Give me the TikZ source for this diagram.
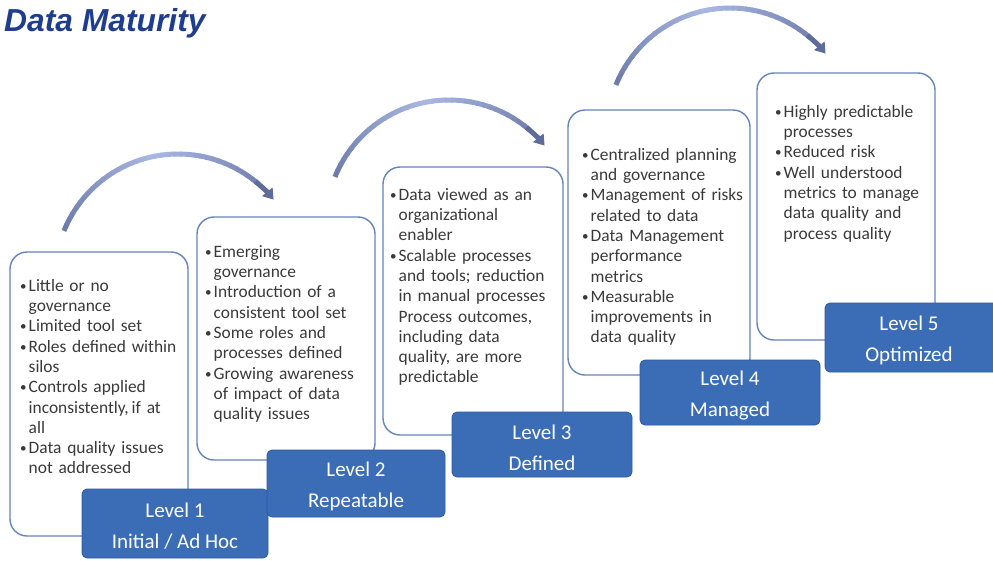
\documentclass[tikz,border=0pt]{standalone}
\usepackage{fontspec}
\usepackage{graphicx}
\setmainfont{Carlito}
\newfontfamily\titlefont{Liberation Sans}
\usetikzlibrary{arrows.meta}
\definecolor{titleblue}{HTML}{1F3D8F}
\definecolor{boxline}{HTML}{6683BB}
\definecolor{lblfill}{HTML}{3B6DB7}
\definecolor{lblline}{HTML}{2E5A9E}
\definecolor{txt}{HTML}{3A3A3A}
\definecolor{arcd}{HTML}{5E6C9C}
\definecolor{arcl}{HTML}{AAB8E4}
\newcommand{\bul}{\makebox[8.5pt][l]{\raisebox{0.1ex}{\scalebox{0.75}{\textbullet}}}}
\newcommand{\ind}{\hspace*{8.5pt}}
\newcommand{\fs}{\rule{0pt}{13pt}}
\tikzset{
  lvbox/.style={draw=boxline, line width=1.4pt, rounded corners=17pt, fill=white, inner sep=0pt},
  lvtext/.style={anchor=north west, inner sep=0pt, text=txt, font=\fontsize{17.4}{20.3}\selectfont, align=left, text width=185pt},
  lvlabel/.style={draw=lblline, fill=lblfill, rounded corners=5pt, text=white, font=\fontsize{21}{31}\selectfont, align=center, inner sep=0pt, line width=0.8pt},
  lvlabeltext/.style={text=white, font=\fontsize{21}{31}\selectfont, align=center, inner sep=0pt},
  arcline/.style={line width=5pt}
}
\begin{document}
\begin{tikzpicture}[x=1pt,y=1pt]
\useasboundingbox (0,0) rectangle (993,-560);
% title
\node[anchor=base west, inner sep=0pt, text=titleblue, font=\titlefont\bfseries\itshape\fontsize{31.8}{36}\selectfont] (title) at (4,-31) {Data Maturity};
% arcs
\foreach \cx/\cy in {178/277, 449/223, 730/131} {
  \foreach \a in {158,155,...,53} {
    \pgfmathtruncatemacro\p{max(15,100-1.4*abs(\a-102))}
    \draw[arcline, color=arcl!\p!arcd] ({\cx+123*cos(\a)},{-\cy+123*sin(\a)}) arc[start angle=\a, end angle=\a-3.6, radius=123pt];
  }
  \draw[arcline, arcd, -{Triangle[length=10pt,width=13pt]}] ({\cx+123*cos(51)},{-\cy+123*sin(51)}) arc[start angle=51, end angle=39, radius=123pt];
}
% boxes
\node[lvbox, minimum width=178pt, minimum height=284pt] (b1) at (99,-394) {};
\node[lvbox, minimum width=178pt, minimum height=243pt] (b2) at (286,-338.5) {};
\node[lvbox, minimum width=180pt, minimum height=268pt] (b3) at (473,-301) {};
\node[lvbox, minimum width=182pt, minimum height=265pt] (b4) at (659,-242.5) {};
\node[lvbox, minimum width=178pt, minimum height=267pt] (b5) at (846,-206.5) {};
% texts
\node[lvtext] (t1) at (20,-278) {\fs\bul Little or no\\\ind governance\\\bul Limited tool set\\\bul Roles defined within\\\ind silos\\\bul Controls applied\\\ind inconsistently,\,if at\\\ind all\\\bul Data quality issues\\\ind not addressed};
\node[lvtext] (t2) at (205,-244) {\fs\bul Emerging\\\ind governance\\\bul Introduction of a\\\ind consistent tool set\\\bul Some roles and\\\ind processes defined\\\bul Growing awareness\\\ind of impact of data\\\ind quality issues};
\node[lvtext] (t3) at (390,-187) {\fs\bul Data viewed as an\\\ind organizational\\\ind enabler\\\bul Scalable processes\\\ind and tools; reduction\\\ind in manual processes\\\ind Process outcomes,\\\ind including data\\\ind quality, are more\\\ind predictable};
\node[lvtext] (t4) at (582,-147) {\fs\bul Centralized planning\\\ind and governance\\\bul Management of risks\\\ind related to data\\\bul Data Management\\\ind performance\\\ind metrics\\\bul Measurable\\\ind improvements in\\\ind data quality};
\node[lvtext] (t5) at (775,-104) {\fs\bul Highly predictable\\\ind processes\\\bul Reduced risk\\\bul Well understood\\\ind metrics to manage\\\ind data quality and\\\ind process quality};
% labels
\node[lvlabel, minimum width=186pt, minimum height=69pt] (l1) at (175,-523.5) {};
\node[lvlabel, minimum width=178pt, minimum height=67pt] (l2) at (356,-483.5) {};
\node[lvlabel, minimum width=180pt, minimum height=65pt] (l3) at (542,-444.5) {};
\node[lvlabel, minimum width=180pt, minimum height=65pt] (l4) at (730,-392.5) {};
\node[lvlabel, minimum width=176pt, minimum height=69pt] (l5) at (913,-337.5) {};
\node[lvlabeltext] (l1t) at ([yshift=-3pt]l1.center) {Level 1\\Initial / Ad Hoc};
\node[lvlabeltext] (l2t) at ([yshift=-3pt]l2.center) {Level 2\\Repeatable};
\node[lvlabeltext] (l3t) at ([yshift=-3pt]l3.center) {Level 3\\Defined};
\node[lvlabeltext] (l4t) at ([yshift=-3pt]l4.center) {Level 4\\Managed};
\node[lvlabeltext] (l5t) at ([xshift=-4pt,yshift=-3pt]l5.center) {Level 5\\Optimized};
\end{tikzpicture}
\end{document}
